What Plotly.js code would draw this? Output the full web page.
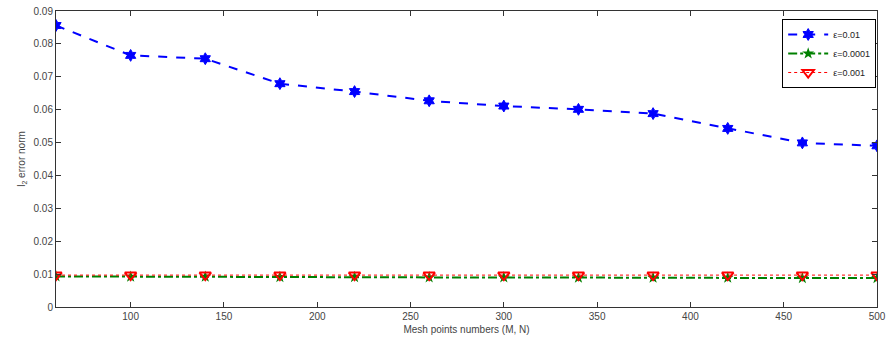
<!DOCTYPE html>
<html><head><meta charset="utf-8">
<script src="https://cdn.plot.ly/plotly-3.0.1.min.js"></script>
<style>body{margin:0;padding:0;background:#fff}#plot{width:887px;height:340px}</style>
</head><body><div id="plot"></div>
<script>
const meshPoints = [60,100,140,180,220,260,300,340,380,420,460,500];
const eps001 = [0.0856,0.0765,0.0755,0.0679,0.0655,0.0627,0.0611,0.0601,0.0588,0.0543,0.0499,0.0490];
const eps00001 = [0.0093,0.0092,0.0092,0.0091,0.0091,0.0090,0.0090,0.0089,0.0089,0.0089,0.0088,0.0088];
const eps0001 = [0.0097,0.0097,0.0097,0.0097,0.0097,0.0097,0.0097,0.0097,0.0097,0.0097,0.0097,0.0097];
const seriesNames = ['ε=0.01','ε=0.0001','ε=0.001'];
const xTicks = [100,150,200,250,300,350,400,450,500];
const yTicks = [0,0.01,0.02,0.03,0.04,0.05,0.06,0.07,0.08,0.09];

const traces = [
 {x:meshPoints,y:eps001,name:seriesNames[0],mode:'lines+markers',
  line:{color:'#0000ff',dash:'dash',width:2},
  marker:{symbol:'hexagram',size:9,color:'#0000ff',line:{color:'#0000ff',width:1}}},
 {x:meshPoints,y:eps00001,name:seriesNames[1],mode:'lines+markers',
  line:{color:'#008000',dash:'dashdot',width:2},
  marker:{symbol:'star',size:9,color:'#008000'}},
 {x:meshPoints,y:eps0001,name:seriesNames[2],mode:'lines+markers',
  line:{color:'#ff0000',dash:'dot',width:1},
  marker:{symbol:'triangle-down-open',size:10,color:'#ff0000',line:{width:2,color:'#ff0000'}}}
];
const axFont = {family:'Liberation Sans, Arial, sans-serif',size:10,color:'#444'};
const layout = {
 width:887,height:340,
 margin:{l:56,r:10,t:11,b:33},
 paper_bgcolor:'#fff',plot_bgcolor:'#fff',
 showlegend:true,
 legend:{x:0.999,y:0.973,xanchor:'right',yanchor:'top',bgcolor:'#fff',bordercolor:'#000',borderwidth:1,
   font:{family:'Liberation Sans, Arial, sans-serif',size:9,color:'#222'},tracegroupgap:0,itemwidth:40},
 xaxis:{range:[60,500],tickvals:xTicks,ticks:'inside',ticklen:5,tickcolor:'#333',
   showline:true,linecolor:'#333',mirror:'allticks',showgrid:false,zeroline:false,
   tickfont:axFont,title:{text:'Mesh points numbers (M, N)',font:axFont,standoff:4}},
 yaxis:{range:[0,0.09],tickvals:yTicks,ticktext:yTicks.map(v=>String(v)),ticks:'inside',ticklen:5,tickcolor:'#333',
   showline:true,linecolor:'#333',mirror:'allticks',showgrid:false,zeroline:false,
   tickfont:axFont,title:{text:'l<sub>2</sub> error norm',font:axFont,standoff:6}}
};
Plotly.newPlot('plot',traces,layout,{displayModeBar:false,staticPlot:true});
</script></body></html>
